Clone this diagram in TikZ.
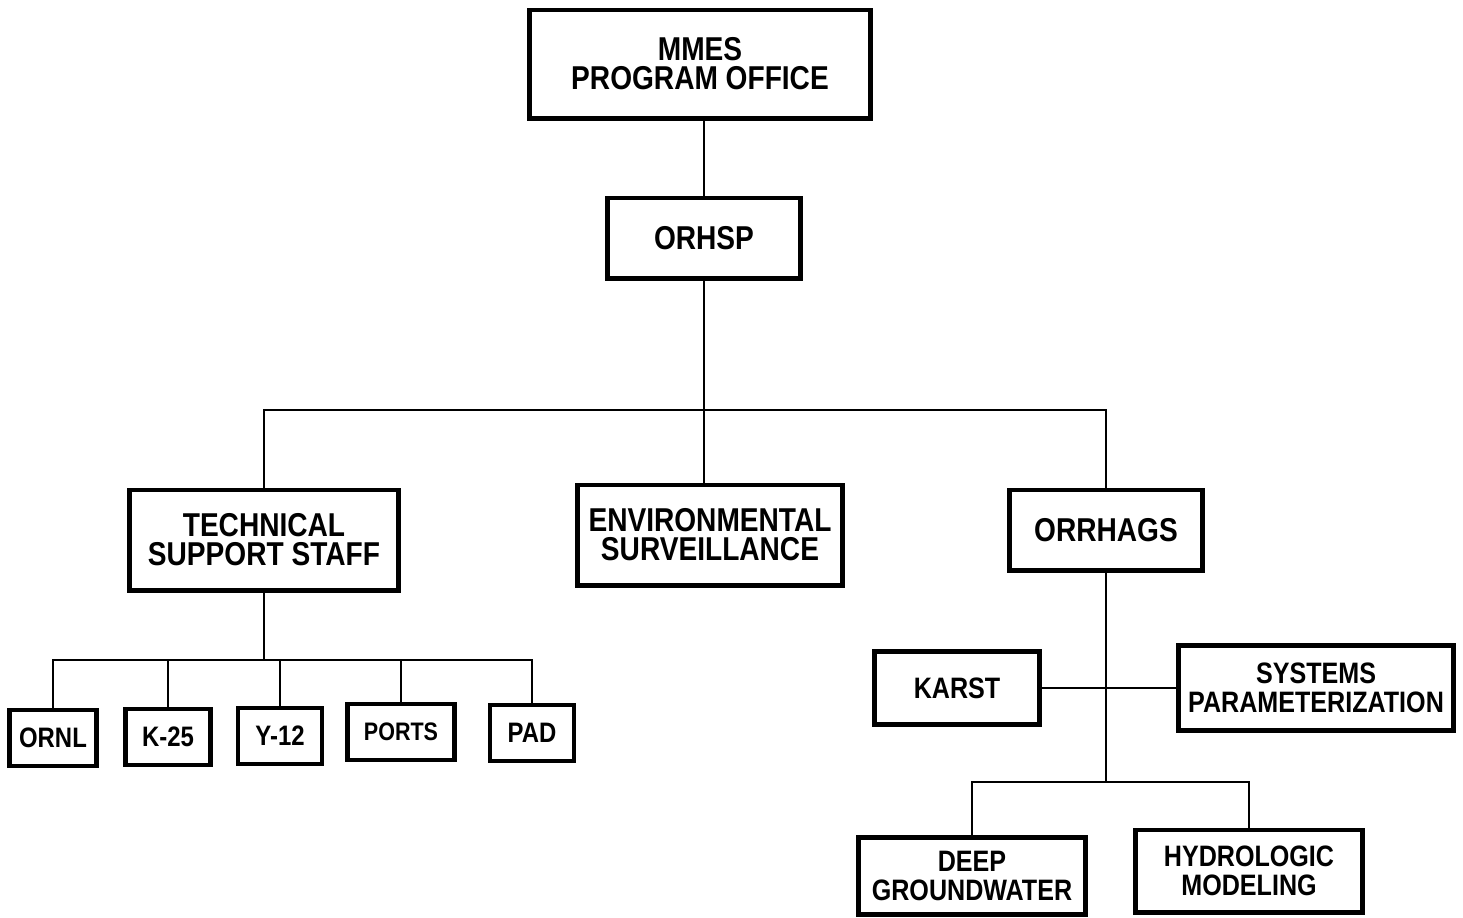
\documentclass[tikz,border=0pt]{standalone}
\usepackage{fontspec}
\setmainfont{Liberation Sans}[FakeStretch=0.85]
\usetikzlibrary{positioning}

\begin{document}
\begin{tikzpicture}[x=0.01cm, y=-0.01cm, line width=0.6pt,
  unit/.style = {draw, line width=1.4pt, inner sep=0pt, align=center,
    font=\fontsize{9.4}{8.3}\selectfont\bfseries},
  small/.style = {font=\fontsize{8.4}{8.3}\selectfont\bfseries},
  site/.style = {unit, minimum height=0.56cm, font=\fontsize{8}{8}\selectfont\bfseries}]
\useasboundingbox (0,0) rectangle (1463,917);

% top of the chart
\node[unit, minimum width=3.4cm, minimum height=1.08cm] (mmes) at (700,64) {MMES\\PROGRAM OFFICE};
\node[unit, minimum width=1.92cm, minimum height=0.8cm] (orhsp) at (704,238) {ORHSP};

% second level
\node[unit, minimum width=2.68cm, minimum height=1cm] (tss) at (264,540) {TECHNICAL\\SUPPORT STAFF};
\node[unit, minimum width=2.64cm, minimum height=1cm] (env) at (710,535) {ENVIRONMENTAL\\SURVEILLANCE};
\node[unit, minimum width=1.92cm, minimum height=0.8cm] (orrhags) at (1106,530) {ORRHAGS};

% plants
\node[site, minimum width=0.87cm] (ornl) at (53,738) {ORNL};
\node[site, minimum width=0.85cm] (k25) at (168,737) {K-25};
\node[site, minimum width=0.84cm] (y12) at (280,736) {Y-12};
\node[site, minimum width=1.07cm, font=\fontsize{7.2}{8}\selectfont\bfseries] (ports) at (401,732) {PORTS};
\node[site, minimum width=0.84cm] (pad) at (532,733) {PAD};

% ORRHAGS groups
\node[unit, small, minimum width=1.65cm, minimum height=0.73cm] (karst) at (957,688) {KARST};
\node[unit, small, minimum width=2.75cm, minimum height=0.85cm] (sysp) at (1316,688) {SYSTEMS\\PARAMETERIZATION};
\node[unit, small, minimum width=2.27cm, minimum height=0.77cm] (deep) at (972,876) {DEEP\\GROUNDWATER};
\node[unit, small, minimum width=2.27cm, minimum height=0.82cm] (hydro) at (1249,871) {HYDROLOGIC\\MODELING};

\coordinate (bus1) at (704,410);
\coordinate (bus2) at (264,660);
\coordinate (bus3) at (1106,782);

\draw (orhsp.north) -- (orhsp.north |- mmes.south);
\draw (orhsp.south) -- (orhsp.south |- env.north);
\draw (tss.north) |- (bus1) -| (orrhags.north);

\draw (tss.south) -- (bus2);
\draw (ornl.north) |- (bus2) -| (pad.north);
\foreach \n in {k25, y12, ports}
  \draw (\n.north) -- (\n.north |- bus2);

\draw (orrhags.south) -- (bus3);
\draw (deep.north) |- (bus3) -| (hydro.north);
\draw (karst.east) -- (sysp.west);
\end{tikzpicture}
\end{document}
